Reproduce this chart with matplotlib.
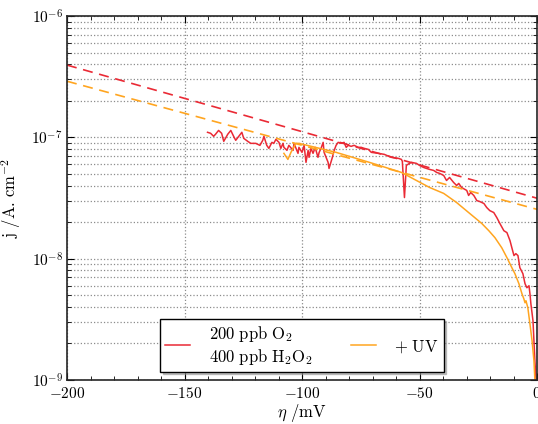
import numpy as np
import matplotlib
matplotlib.use('Agg')
import matplotlib.pyplot as plt
from matplotlib.ticker import LogLocator, MultipleLocator, NullFormatter

plt.rcParams['mathtext.fontset'] = 'cm'
plt.rcParams['font.family'] = 'serif'
plt.rcParams['font.serif'] = ['cmr10', 'DejaVu Serif']
plt.rcParams['axes.unicode_minus'] = False

# overpotential (mV) and current density (A/cm2)
eta_o2 = [-140.2, -138.9, -137.6, -136.8, -135.5, -134.2, -133.3, -131.6, -130.3, -129.1,
          -128.2, -126.9, -125.6, -124.8, -123.1, -121.8, -119.7, -117.9, -116.7, -116.2,
          -115.0, -114.1, -112.8, -112.0, -111.1, -109.8, -109.0, -108.1, -107.7, -106.4,
          -105.6, -103.8, -103.4, -101.7, -101.3, -100.0, -99.1, -98.3, -97.4, -97.0,
          -96.2, -95.3, -94.4, -93.2, -92.7, -91.9, -91.0, -90.6, -88.9, -88.5,
          -87.2, -86.3, -85.5, -84.6, -83.3, -82.1, -81.2, -80.3, -79.1, -77.8,
          -76.1, -74.8, -73.5, -71.8, -70.5, -67.5, -65.0, -62.0, -59.0, -57.7,
          -57.3, -56.4, -55.6, -54.3, -53.4, -51.3, -50.0, -48.3, -47.0, -45.7,
          -44.0, -42.7, -41.4, -39.7, -38.5, -37.2, -35.5, -34.2, -33.3, -32.1,
          -29.9, -29.1, -28.2, -26.9, -25.6, -24.4, -22.6, -21.4, -20.1, -18.4,
          -17.1, -15.8, -14.1, -12.8, -11.5, -10.7, -9.8, -9.0, -8.1, -7.3,
          -6.0, -5.1, -4.3, -3.4, -3.0, -2.6, -1.7, -1.3, -0.9, -0.4, -0.2]
j_o2 = [1.10e-7, 1.08e-7, 1.02e-7, 1.06e-7, 1.14e-7, 1.08e-7, 9.27e-8, 1.06e-7, 1.14e-7, 1.02e-7,
        9.45e-8, 1.02e-7, 1.10e-7, 9.81e-8, 9.27e-8, 8.92e-8, 8.92e-8, 8.59e-8, 9.45e-8, 1.02e-7,
        8.59e-8, 8.11e-8, 9.09e-8, 8.92e-8, 9.63e-8, 9.09e-8, 8.11e-8, 8.92e-8, 8.27e-8, 7.81e-8,
        8.59e-8, 7.81e-8, 8.92e-8, 7.38e-8, 8.27e-8, 7.52e-8, 8.59e-8, 6.22e-8, 7.81e-8, 6.84e-8,
        8.11e-8, 7.38e-8, 8.27e-8, 6.84e-8, 7.52e-8, 8.11e-8, 9.09e-8, 7.52e-8, 6.22e-8, 5.54e-8,
        6.71e-8, 7.81e-8, 8.59e-8, 9.09e-8, 8.92e-8, 9.09e-8, 8.27e-8, 8.59e-8, 8.43e-8, 8.59e-8,
        8.27e-8, 8.27e-8, 8.11e-8, 7.96e-8, 7.52e-8, 7.38e-8, 7.24e-8, 6.84e-8, 6.71e-8, 6.58e-8,
        6.34e-8, 3.19e-8, 5.87e-8, 6.10e-8, 6.22e-8, 6.10e-8, 5.87e-8, 5.65e-8, 5.54e-8, 5.44e-8,
        5.34e-8, 5.14e-8, 5.04e-8, 4.85e-8, 4.41e-8, 4.67e-8, 4.25e-8, 4.01e-8, 4.17e-8, 3.86e-8,
        3.65e-8, 3.32e-8, 3.51e-8, 3.32e-8, 3.01e-8, 2.96e-8, 2.85e-8, 2.64e-8, 2.49e-8, 2.40e-8,
        2.18e-8, 1.95e-8, 1.70e-8, 1.64e-8, 1.41e-8, 1.23e-8, 1.06e-8, 1.10e-8, 1.06e-8, 8.43e-9,
        7.52e-9, 6.22e-9, 5.76e-9, 5.98e-9, 5.14e-9, 4.25e-9, 3.07e-9, 2.10e-9, 1.44e-9, 1.0e-9, 8.0e-10]

eta_uv = [-107.7, -106.0, -104.7, -102.6, -101.3, -85.5, -70.5, -57.7, -51.3, -45.7,
          -39.7, -34.2, -29.1, -26.5, -23.5, -20.5, -17.9, -15.0, -12.8, -10.7,
          -9.4, -7.7, -6.4, -5.6, -5.1, -4.7, -3.9, -3.0, -2.1, -1.3, -0.9, -0.6]
j_uv = [7.38e-8, 6.58e-8, 7.52e-8, 8.92e-8, 8.92e-8, 7.52e-8, 6.15e-8, 5.14e-8, 4.41e-8, 3.86e-8,
        3.45e-8, 2.90e-8, 2.40e-8, 2.18e-8, 1.95e-8, 1.70e-8, 1.49e-8, 1.23e-8, 1.02e-8, 8.43e-9,
        7.52e-9, 6.22e-9, 5.14e-9, 4.67e-9, 4.33e-9, 4.50e-9, 3.94e-9, 2.90e-9, 2.10e-9, 1.44e-9, 1.0e-9, 8.0e-10]

# Tafel fits (end points)
eta_fit = [-200, 0]
j_fit_o2 = [3.94e-7, 3.15e-8]
j_fit_uv = [2.90e-7, 2.55e-8]

x_ticks = [-200, -150, -100, -50, 0]
y_ticks = [1e-9, 1e-8, 1e-7, 1e-6]

red = '#ea2a35'
orange = '#ffa520'

fig = plt.figure(figsize=(5.38, 4.24), dpi=100)
ax = fig.add_axes([67 / 538, 1 - 380 / 424, 470 / 538, 364 / 424])

ax.semilogy(eta_o2, j_o2, color=red, lw=1.1,
            label='$\\mathrm{200\\ ppb\\ O_2}$\n$\\mathrm{400\\ ppb\\ H_2O_2}$')
ax.semilogy(eta_uv, j_uv, color=orange, lw=1.1, label='$\\mathrm{+\\ UV}$')
ax.semilogy(eta_fit, j_fit_o2, color=red, lw=1.2, dashes=(6, 4))
ax.semilogy(eta_fit, j_fit_uv, color=orange, lw=1.2, dashes=(6, 4))

ax.set_xlim(-200, 0)
ax.set_ylim(1e-9, 1e-6)
ax.set_xticks(x_ticks)
ax.set_xticklabels(['$%d$' % t for t in x_ticks])
ax.xaxis.set_minor_locator(MultipleLocator(10))
ax.set_yticks(y_ticks)
ax.set_yticklabels(['$10^{%d}$' % int(np.log10(t)) for t in y_ticks])
ax.yaxis.set_minor_locator(LogLocator(base=10, subs=np.arange(2, 10)))
ax.yaxis.set_minor_formatter(NullFormatter())

ax.tick_params(which='both', direction='in', top=True, right=True, labelsize=11, colors='k')
ax.tick_params(which='major', length=5, width=0.8)
ax.tick_params(which='minor', length=3, width=0.6)
ax.tick_params(axis='x', pad=4)
ax.tick_params(axis='y', pad=3)

ax.grid(which='major', color='0.55', linestyle=':', linewidth=0.9)
ax.yaxis.grid(which='minor', color='0.55', linestyle=':', linewidth=0.9)
ax.set_axisbelow(True)
for s in ax.spines.values():
    s.set_linewidth(1.2)
    s.set_color('0.15')

ax.set_xlabel('$\\eta\\ \\mathrm{/mV}$', fontsize=12, labelpad=1)
ax.set_ylabel('$\\mathrm{j\\ /A.\\,cm^{-2}}$', fontsize=12, labelpad=6)

leg = ax.legend(loc='lower center', ncol=2, fontsize=12, frameon=True, fancybox=False,
                shadow={'ox': 2, 'oy': -2, 'color': '0.55'}, borderaxespad=0.5,
                handlelength=1.5, handletextpad=1.1, columnspacing=2.3,
                borderpad=0.3)
leg.get_frame().set_edgecolor('k')
leg.get_frame().set_linewidth(1.0)

fig.savefig('out.png', dpi=100)
